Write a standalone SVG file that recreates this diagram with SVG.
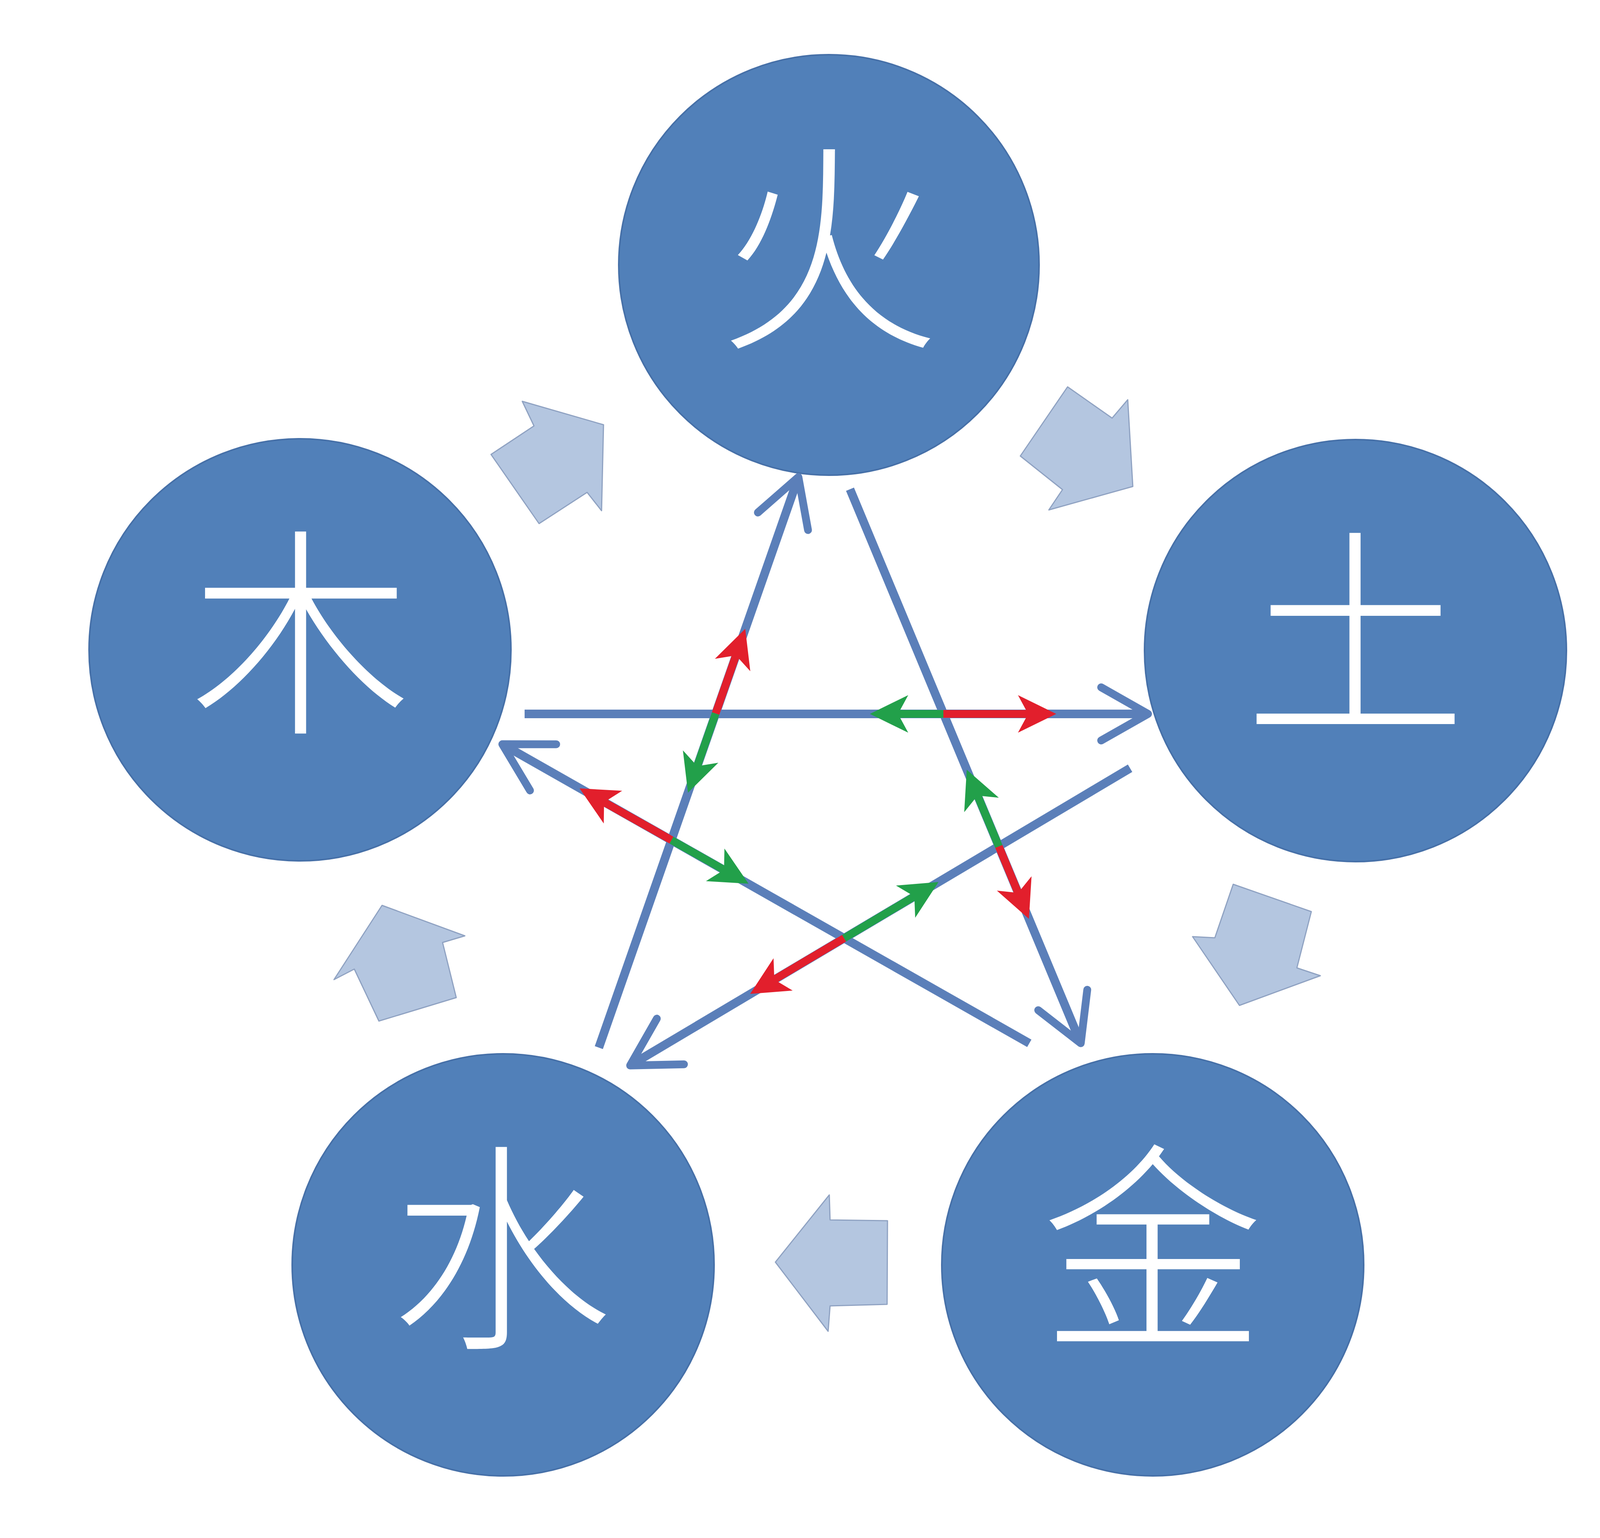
<svg xmlns="http://www.w3.org/2000/svg" width="4256" height="3936" viewBox="0 0 4256 3936">
<style>
.node circle{fill:#5180b9;stroke:#4670a8;stroke-width:4}
.node text{fill:#ffffff;font-family:"Noto Sans CJK SC","Noto Sans CJK TC",sans-serif;font-size:570px;font-weight:300;text-anchor:middle}
.gen polygon{fill:#b4c6e0;stroke:#8fa2c2;stroke-width:3;stroke-linejoin:round}
.star{fill:none;stroke:#5b7fb9;stroke-width:22;stroke-linecap:butt;marker-end:url(#vhead)}
.red{fill:none;stroke:#e21f2c;stroke-width:20;marker-end:url(#redhead)}
.green{fill:none;stroke:#22a04a;stroke-width:20;marker-end:url(#greenhead)}
</style>
<defs>
<marker id="vhead" markerUnits="userSpaceOnUse" viewBox="-140 -100 180 200" refX="0" refY="0" markerWidth="180" markerHeight="200" orient="auto" overflow="visible">
<path d="M-105,-68 L15,0 L-105,68" fill="none" stroke="#5b7fb9" stroke-width="20" stroke-linejoin="round" stroke-linecap="round"/>
</marker>
<marker id="redhead" markerUnits="userSpaceOnUse" viewBox="-60 -60 140 120" refX="0" refY="0" markerWidth="140" markerHeight="120" orient="auto" overflow="visible">
<path d="M60,0 L-38,-48 L-12,0 L-38,48 Z" fill="#e21f2c"/>
</marker>
<marker id="greenhead" markerUnits="userSpaceOnUse" viewBox="-60 -60 140 120" refX="0" refY="0" markerWidth="140" markerHeight="120" orient="auto" overflow="visible">
<path d="M60,0 L-38,-48 L-12,0 L-38,48 Z" fill="#22a04a"/>
</marker>
</defs>
<rect width="4256" height="3936" fill="#ffffff"/>

<g id="generating-arrows" class="gen">
<polygon id="gen-wood-fire" points="1337,1027 1545,1087 1540,1307 1503,1260 1380,1340 1257,1163 1367,1090"/>
<polygon id="gen-fire-earth" points="2733,990 2847,1070 2887,1023 2900,1245 2685,1305 2720,1253 2612,1167"/>
<polygon id="gen-earth-metal" points="3157,2263 3357,2333 3320,2477 3380,2497 3173,2573 3053,2397 3110,2400"/>
<polygon id="gen-metal-water" points="1985,3230 2123,3058 2125,3122 2272,3124 2271,3338 2125,3342 2120,3407"/>
<polygon id="gen-water-wood" points="978,2317 1190,2395 1133,2412 1168,2553 970,2613 907,2480 855,2507"/>
</g>

<g id="node-fire" class="node"><circle cx="2122" cy="678" r="538"/><text x="2122" y="850">火</text></g>
<g id="node-wood" class="node"><circle cx="768" cy="1663" r="540"/><text x="770" y="1835">木</text></g>
<g id="node-earth" class="node"><circle cx="3470" cy="1665" r="540"/><text x="3470" y="1837">土</text></g>
<g id="node-water" class="node"><circle cx="1288" cy="3237" r="540"/><text x="1283" y="3409">水</text></g>
<g id="node-metal" class="node"><circle cx="2951" cy="3237" r="540"/><text x="2951" y="3409">金</text></g>

<g id="connectors">
<line class="star" x1="1533" y1="2681" x2="2039" y2="1235"/>
<line class="star" x1="2176" y1="1252" x2="2761" y2="2656"/>
<line class="star" x1="1343" y1="1827" x2="2924" y2="1827"/>
<line class="star" x1="2893" y1="1966" x2="1626" y2="2719"/>
<line class="star" x1="2635" y1="2670" x2="1299" y2="1912"/>

<line class="red" x1="1832" y1="1826" x2="1888" y2="1666"/>
<line class="red" x1="2415" y1="1827" x2="2644" y2="1827"/>
<line class="red" x1="2557" y1="2166" x2="2611" y2="2296"/>
<line class="red" x1="2161" y1="2401" x2="1972" y2="2513"/>
<line class="red" x1="1719" y1="2150" x2="1536" y2="2047"/>

<line class="green" x1="2415" y1="1827" x2="2287" y2="1827"/>
<line class="green" x1="1832" y1="1826" x2="1781" y2="1972"/>
<line class="green" x1="1719" y1="2150" x2="1864" y2="2232"/>
<line class="green" x1="2161" y1="2401" x2="2351" y2="2288"/>
<line class="green" x1="2557" y1="2166" x2="2498" y2="2025"/>
</g>
</svg>
